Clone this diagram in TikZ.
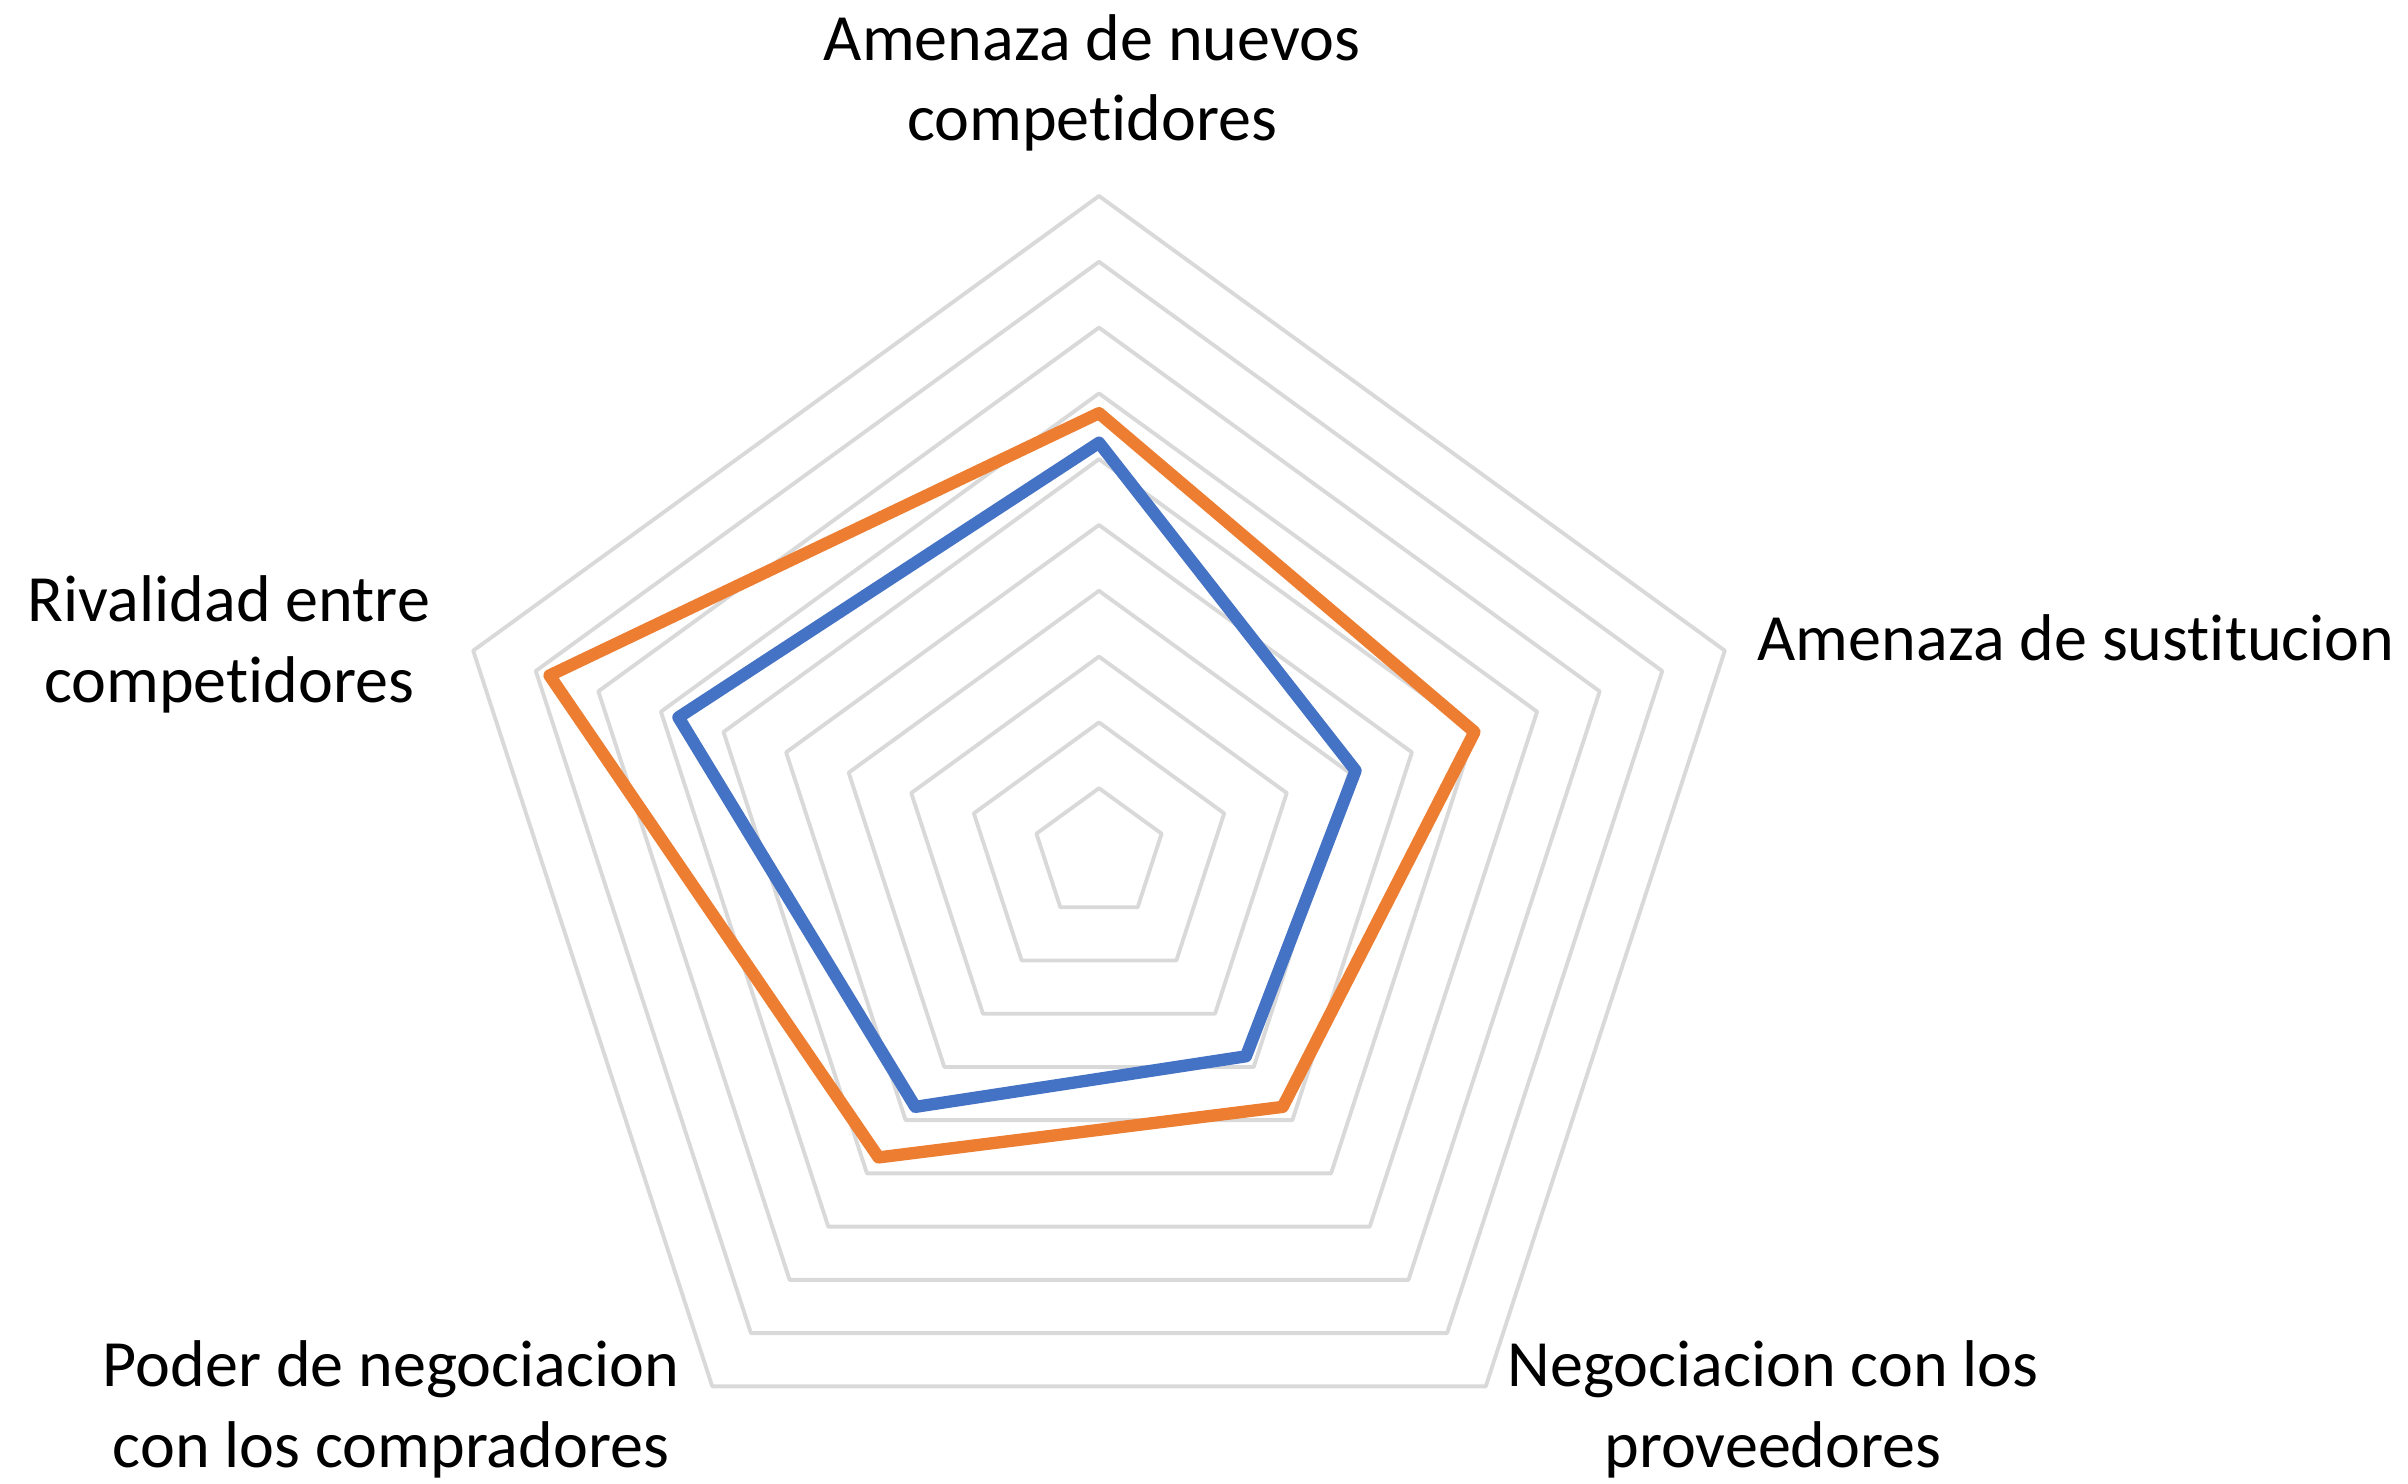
\documentclass[tikz,border=0pt]{standalone}
\usepackage{fontspec}
\setmainfont{Carlito}[Ligatures=NoCommon]
\definecolor{rejilla}{HTML}{D9D9D9}
\definecolor{azul}{HTML}{4472C4}
\definecolor{naranja}{HTML}{ED7D31}
\begin{document}
\begin{tikzpicture}[line cap=round, line join=round, font=\fontsize{18.8}{22.8}\selectfont,
		eje/.style={align=center, inner sep=0pt, anchor=base},
		serie/.style={line width=3.5pt}]
	\def\d{0.658}
	\useasboundingbox (0,0) rectangle (24.08,14.83);
	\begin{scope}[shift={(10.99,6.29)}]
		% rejilla de 10 niveles
		\foreach \k in {1,...,10}
			\draw[rejilla, line width=1.1pt] (90:\k*\d) -- (18:\k*\d) -- (-54:\k*\d) -- (-126:\k*\d) -- (162:\k*\d) -- cycle;
		\draw[serie, azul] (90:6.25*\d) -- (18:4.1*\d) -- (-54:3.8*\d) -- (-126:4.75*\d) -- (162:6.72*\d) -- cycle;
		\draw[serie, naranja] (90:6.7*\d) -- (18:6.0*\d) -- (-54:4.75*\d) -- (-126:5.7*\d) -- (162:8.78*\d) -- cycle;
	\end{scope}
	% anclas en la linea base de la ultima linea
	\node[eje] (nuevos) at (10.92,13.42) {Amenaza de nuevos\\competidores};
	\node[eje, anchor=base west] (sustitucion) at (17.57,8.23) {Amenaza de sustitucion};
	\node[eje] (proveedores) at (17.73,0.16) {Negociacion con los\\proveedores};
	\node[eje] (compradores) at (3.91,0.16) {Poder de negociacion\\con los compradores};
	\node[eje] (rivalidad) at (2.29,7.81) {Rivalidad entre\\competidores};
\end{tikzpicture}
\end{document}
